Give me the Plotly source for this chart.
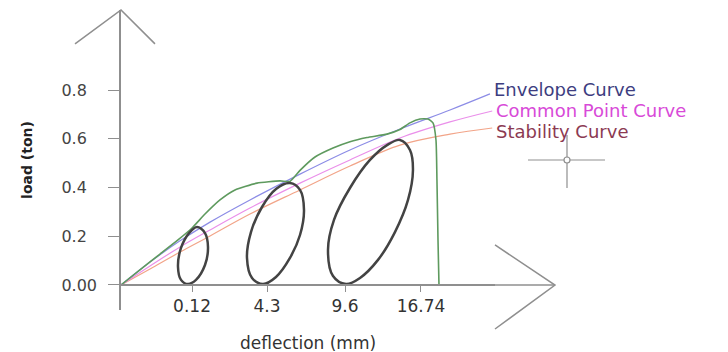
import plotly.graph_objects as go

# ---- data (schematic units: x in tick-spacing units, y in ton) ----
x_tick_pos = [0.947, 1.947, 2.987, 4.0]
x_tick_text = ["0.12", "4.3", "9.6", "16.74"]
y_tick_pos = [0.0, 0.2, 0.4, 0.6, 0.8]
y_tick_text = ["0.00", "0.2\u2007", "0.4\u2007", "0.6\u2007", "0.8\u2007"]

curve_x = [0, 0.387, 0.787, 1.187, 1.72, 2.387, 3.053, 3.72, 4.387]
envelope_x = curve_x + [4.92]
envelope_y = [0, 0.094, 0.181, 0.258, 0.349, 0.455, 0.554, 0.640, 0.718, 0.784]
common_x = curve_x + [4.95]
common_y = [0, 0.078, 0.156, 0.226, 0.316, 0.418, 0.513, 0.603, 0.669, 0.714]
stability_x = curve_x + [4.95]
stability_y = [0, 0.066, 0.135, 0.201, 0.291, 0.390, 0.488, 0.574, 0.619, 0.644]

skeleton_x = [0, 0.253, 0.52, 0.76, 0.947, 1.12, 1.32, 1.52, 1.813, 2.12, 2.253,
              2.387, 2.587, 2.827, 3.053, 3.28, 3.547, 3.72, 3.853, 3.987, 4.093,
              4.16, 4.2, 4.213, 4.227, 4.24]
skeleton_y = [0, 0.062, 0.127, 0.185, 0.234, 0.291, 0.349, 0.390, 0.418, 0.427, 0.425,
              0.470, 0.525, 0.562, 0.588, 0.605, 0.619, 0.638, 0.665, 0.681, 0.681,
              0.665, 0.595, 0.431, 0.185, 0]

loop1_x = [1.013, 1.12, 1.16, 1.12, 1.0, 0.893, 0.8, 0.76, 0.8, 0.907, 1.013]
loop1_y = [0.238, 0.213, 0.156, 0.082, 0.021, 0.004, 0.021, 0.074, 0.152, 0.213, 0.238]
loop2_x = [2.253, 2.387, 2.44, 2.387, 2.253, 2.067, 1.893, 1.747, 1.68, 1.733, 1.88, 2.067, 2.253]
loop2_y = [0.418, 0.390, 0.308, 0.205, 0.111, 0.033, 0.004, 0.029, 0.111, 0.217, 0.320, 0.394, 0.418]
loop3_x = [3.72, 3.853, 3.893, 3.827, 3.653, 3.427, 3.187, 3.0, 2.827, 2.76, 2.84, 3.053, 3.32, 3.547, 3.72]
loop3_y = [0.595, 0.554, 0.472, 0.349, 0.217, 0.103, 0.029, 0.004, 0.037, 0.144, 0.267, 0.398, 0.513, 0.574, 0.595]

curve_names = ["Envelope Curve", "Common Point Curve", "Stability Curve"]
line_colors = ["#8c8ce6", "#ea8fea", "#f2a488"]
label_colors = ["#3d3d80", "#d84ad8", "#8c3a52"]

X_MAX = 4.987
Y_MIN, Y_MAX = -0.1026, 1.1282

fig = go.Figure()

fig.add_trace(go.Scatter(x=stability_x, y=stability_y, mode="lines",
                         line=dict(color=line_colors[2], width=1.2, shape="spline"), hoverinfo="skip"))
fig.add_trace(go.Scatter(x=common_x, y=common_y, mode="lines",
                         line=dict(color=line_colors[1], width=1.2, shape="spline"), hoverinfo="skip"))
fig.add_trace(go.Scatter(x=envelope_x, y=envelope_y, mode="lines",
                         line=dict(color=line_colors[0], width=1.2, shape="spline"), hoverinfo="skip"))
fig.add_trace(go.Scatter(x=skeleton_x, y=skeleton_y, mode="lines",
                         line=dict(color="#5e9a5e", width=1.6, shape="spline", smoothing=0.5), hoverinfo="skip"))
for lx, ly in [(loop1_x, loop1_y), (loop2_x, loop2_y), (loop3_x, loop3_y)]:
    fig.add_trace(go.Scatter(x=lx, y=ly, mode="lines",
                             line=dict(color="#434343", width=2.5, shape="spline"), hoverinfo="skip"))

# curve labels at the curve ends
ends = [(envelope_x[-1], envelope_y[-1], 4), (common_x[-1], common_y[-1], 0), (stability_x[-1], stability_y[-1], -3)]
for (ex, ey, ys), name, col in zip(ends, curve_names, label_colors):
    fig.add_annotation(x=ex, y=ey, text=name, showarrow=False, xanchor="left", yanchor="middle",
                       xshift=3, yshift=ys, borderpad=0,
                       font=dict(family="DejaVu Sans", size=18, color=col))

# x-axis title (centred under the axis domain)
fig.add_annotation(x=0.5, y=-0.07, xref="paper", yref="paper", yanchor="top", showarrow=False,
                   text="deflection (mm)", font=dict(family="DejaVu Sans", size=17, color="#333333"))

AX = "#8f8f8f"
shapes = [
    # axis extension and arrowheads
    dict(type="line", xref="paper", yref="paper", x0=1.0, y0=0.0833, x1=1.1604, y1=0.0833, line=dict(color=AX, width=1.5)),
    dict(type="path", xref="paper", yref="paper", path="M -0.123,0.887 L 0,1.0 L 0.0909,0.887",
         line=dict(color=AX, width=1.5)),
    dict(type="path", xref="paper", yref="paper", path="M 1.0,0.2167 L 1.1604,0.0833 L 1.0,-0.0633",
         line=dict(color=AX, width=1.5)),
    # crosshair cursor
    dict(type="line", xref="paper", yref="paper", x0=1.0882, y0=0.5, x1=1.2941, y1=0.5, line=dict(color=AX, width=1.2)),
    dict(type="line", xref="paper", yref="paper", x0=1.1925, y0=0.4067, x1=1.1925, y1=0.5833, line=dict(color=AX, width=1.2)),
    dict(type="circle", xref="paper", yref="paper", x0=1.1845, y0=0.49, x1=1.2005, y1=0.51,
         line=dict(color=AX, width=1.2), fillcolor="white"),
]

fig.update_layout(
    width=728, height=352,
    margin=dict(l=121, r=233, t=10, b=42),
    paper_bgcolor="white", plot_bgcolor="white",
    showlegend=False,
    shapes=shapes,
    xaxis=dict(range=[0, X_MAX], anchor="free", position=0.0833,
               showline=True, linecolor=AX, linewidth=1.5, showgrid=False, zeroline=False,
               tickmode="array", tickvals=x_tick_pos, ticktext=x_tick_text,
               ticks="outside", ticklen=6, tickcolor=AX, ticklabelstandoff=0,
               tickfont=dict(family="DejaVu Sans", size=17, color="#333333"), automargin=False),
    yaxis=dict(range=[Y_MIN, Y_MAX], showline=True, linecolor=AX, linewidth=1.5,
               showgrid=False, zeroline=False,
               tickmode="array", tickvals=y_tick_pos, ticktext=y_tick_text,
               ticks="outside", ticklen=11, tickcolor=AX, ticklabelstandoff=8,
               tickfont=dict(family="DejaVu Sans", size=16, color="#444444"),
               title=dict(text="<b>load (ton)</b>", standoff=26,
                          font=dict(family="DejaVu Sans", size=14, color="#222222")),
               automargin=False),
)

fig.write_html("out.html")
